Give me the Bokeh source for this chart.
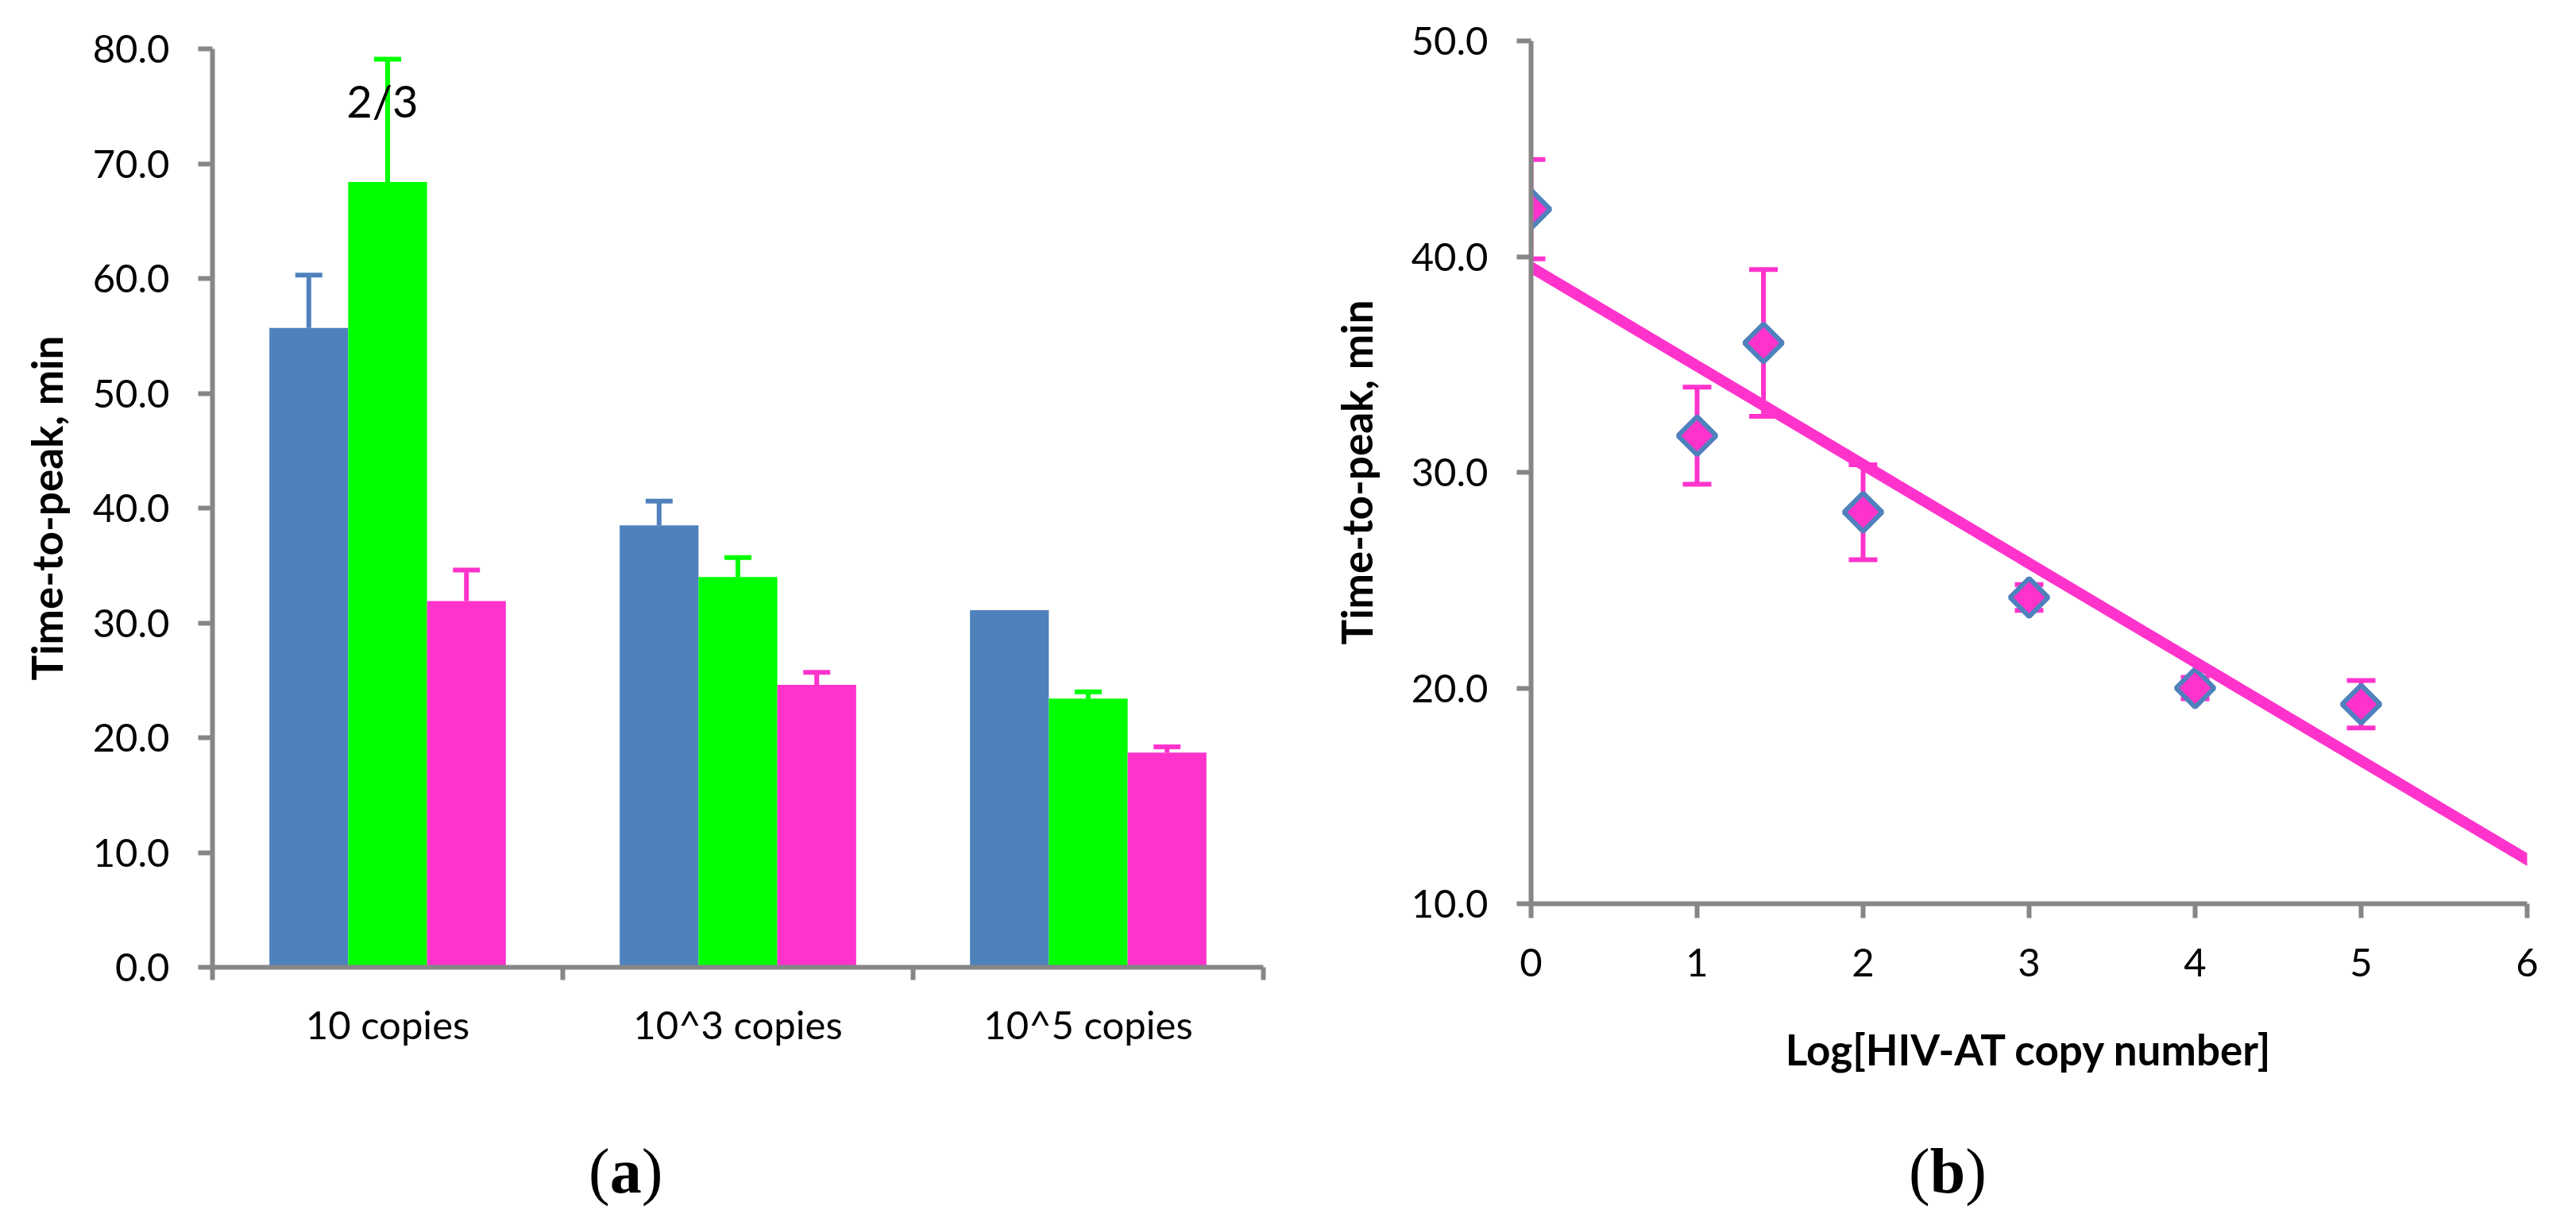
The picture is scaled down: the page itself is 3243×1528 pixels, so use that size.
import numpy as np
from bokeh.plotting import figure
from bokeh.layouts import row, column
from bokeh.models import (ColumnDataSource, Range1d, FixedTicker, SingleIntervalTicker,
                          PrintfTickFormatter, Whisker, TeeHead, Label, Div)
from bokeh.embed import file_html
from bokeh.resources import INLINE

# ---------------- data: panel (a) ----------------
categories = ["10 copies", "10^3 copies", "10^5 copies"]
blue_vals = [55.7, 38.5, 31.1]
blue_err = [4.6, 2.1, 0.0]
green_vals = [68.4, 34.0, 23.4]
green_err = [10.7, 1.7, 0.6]
pink_vals = [31.9, 24.6, 18.7]
pink_err = [2.7, 1.1, 0.5]
note_text = "2/3"
note_y = 75.5

# ---------------- data: panel (b) ----------------
log_copies = [0.0, 1.0, 1.4, 2.0, 3.0, 4.0, 5.0]
ttp = [42.2, 31.7, 36.0, 28.15, 24.2, 20.0, 19.25]
ttp_err = [2.3, 2.25, 3.4, 2.2, 0.6, 0.5, 1.1]

BLUE = "#4F81BD"
GREEN = "#00FF00"
PINK = "#FF33CC"
AXIS = "#868686"
FONT = "Lato"
PLOT_H = 1420
CAP_H = 108


def style_axis(ax):
    ax.axis_line_color = AXIS
    ax.axis_line_width = 6
    ax.major_tick_line_color = AXIS
    ax.major_tick_line_width = 6
    ax.major_tick_out = 18
    ax.major_tick_in = 0
    ax.minor_tick_line_color = None
    ax.major_label_text_font = FONT
    ax.major_label_text_font_size = "49px"
    ax.major_label_text_color = "black"
    ax.major_label_standoff = 36
    ax.axis_label_text_font = FONT
    ax.axis_label_text_font_style = "bold"
    ax.axis_label_text_font_size = "53px"
    ax.axis_label_text_color = "black"


def base_fig(width, left, right, top, bottom, xr, yr):
    p = figure(width=width, height=PLOT_H, x_range=xr, y_range=yr,
               output_backend="svg", toolbar_location=None,
               min_border_left=left, min_border_right=right,
               min_border_top=top, min_border_bottom=bottom)
    p.xgrid.grid_line_color = None
    p.ygrid.grid_line_color = None
    p.outline_line_color = None
    p.background_fill_color = "white"
    p.border_fill_color = "white"
    return p


def caption(letter, left):
    html = ('<div style="font-family: \'Liberation Serif\', serif; font-size: 80px; '
            'line-height: %dpx; text-align: center; color: black; white-space: nowrap;">'
            '(<b>%s</b>)</div>' % (CAP_H, letter))
    return Div(text=html, width=100, height=CAP_H, margin=(0, 0, 0, left))


# ================= panel (a) =================
p1 = base_fig(1600, 267, 10, 61, PLOT_H - 1217, Range1d(0, len(categories)), Range1d(0, 80))
xc = np.arange(len(categories)) + 0.5
bar_w = 0.225
offsets = [-bar_w, 0.0, bar_w]

for vals, errs, col, off in zip([blue_vals, green_vals, pink_vals],
                                [blue_err, green_err, pink_err],
                                [BLUE, GREEN, PINK], offsets):
    xs = xc + off
    p1.vbar(x=xs, top=vals, bottom=0, width=bar_w, fill_color=col, line_color=None)
    keep = [i for i, e in enumerate(errs) if e > 0]
    src = ColumnDataSource(dict(x=[xs[i] for i in keep],
                                lower=[vals[i] for i in keep],
                                upper=[vals[i] + errs[i] for i in keep]))
    w = Whisker(source=src, base="x", lower="lower", upper="upper",
                line_color=col, line_width=6,
                upper_head=TeeHead(size=34, line_color=col, line_width=6),
                lower_head=None)
    p1.add_layout(w)

p1.add_layout(Label(x=xc[0] + offsets[1] - 0.015, y=note_y, text=note_text,
                    text_font=FONT, text_font_size="56px", text_color="black",
                    text_align="center", text_baseline="middle"))

p1.yaxis.ticker = SingleIntervalTicker(interval=10, num_minor_ticks=0)
p1.yaxis.formatter = PrintfTickFormatter(format="%.1f")
p1.yaxis.axis_label = "Time-to-peak, min"
p1.xaxis.ticker = FixedTicker(ticks=list(xc), minor_ticks=list(range(len(categories) + 1)))
p1.xaxis.major_label_overrides = {float(x): c for x, c in zip(xc, categories)}
for ax in p1.xaxis + p1.yaxis:
    style_axis(ax)
p1.yaxis.axis_label_standoff = 24
p1.xaxis.major_tick_line_color = None
p1.xaxis.major_tick_out = 16
p1.xaxis.minor_tick_line_color = AXIS
p1.xaxis.minor_tick_line_width = 6
p1.xaxis.minor_tick_out = 16
p1.xaxis.minor_tick_in = 0
p1.xaxis.major_label_standoff = 26

# ================= panel (b) =================
p2 = base_fig(1643, 327, 62, 51, PLOT_H - 1137, Range1d(0, 6), Range1d(10, 50))

src_b = ColumnDataSource(dict(x=log_copies, y=ttp,
                              lo=[v - e for v, e in zip(ttp, ttp_err)],
                              hi=[v + e for v, e in zip(ttp, ttp_err)]))
p2.add_layout(Whisker(source=src_b, base="x", lower="lo", upper="hi",
                      line_color=PINK, line_width=6,
                      upper_head=TeeHead(size=36, line_color=PINK, line_width=6),
                      lower_head=TeeHead(size=36, line_color=PINK, line_width=6)))
p2.scatter("x", "y", source=src_b, marker="square", angle=np.pi / 4, size=34,
           fill_color=PINK, line_color=BLUE, line_width=6)

slope, intercept = np.polyfit(log_copies, ttp, 1)
tx = np.array([p2.x_range.start - 0.1, p2.x_range.end + 0.1])
p2.line(tx, intercept + slope * tx, line_color=PINK, line_width=14)

p2.xaxis.ticker = SingleIntervalTicker(interval=1, num_minor_ticks=0)
p2.yaxis.ticker = SingleIntervalTicker(interval=10, num_minor_ticks=0)
p2.yaxis.formatter = PrintfTickFormatter(format="%.1f")
p2.xaxis.axis_label = "Log[HIV-AT copy number]"
p2.yaxis.axis_label = "Time-to-peak, min"
for ax in p2.xaxis + p2.yaxis:
    style_axis(ax)
p2.xaxis.major_tick_out = 18
p2.xaxis.major_label_standoff = 38
p2.xaxis.axis_label_standoff = 57
p2.yaxis.axis_label_standoff = 35

layout = row(column(p1, caption("a", 741)), column(p2, caption("b", 803)))
open("out.html", "w").write(file_html(layout, INLINE))
